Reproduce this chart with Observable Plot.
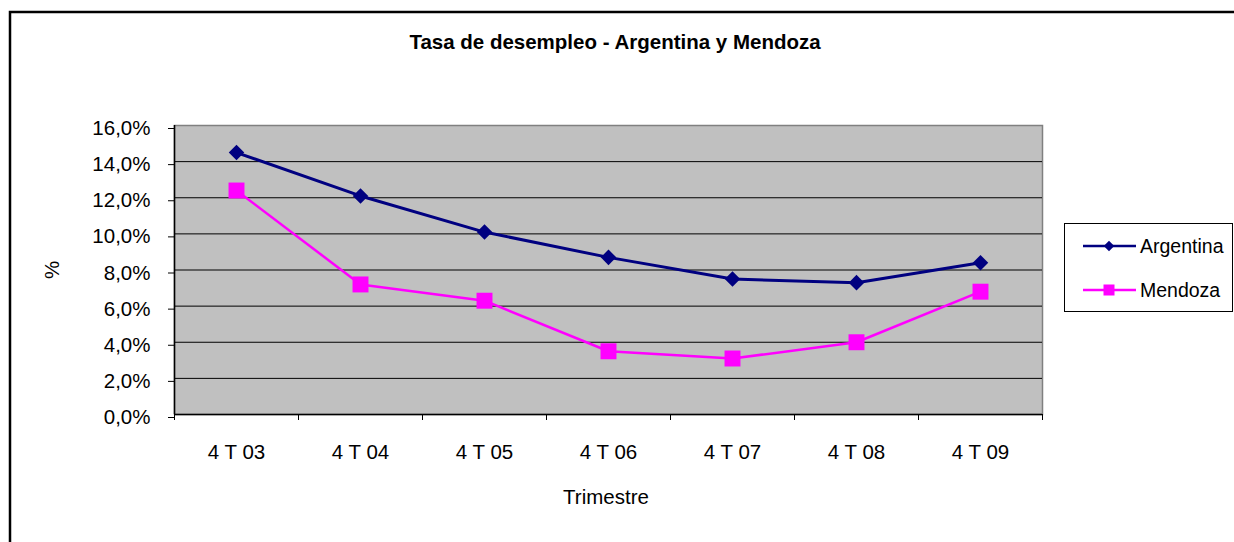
<!DOCTYPE html>
<html>
<head>
<meta charset="utf-8">
<script src="https://cdn.jsdelivr.net/npm/d3@7"></script>
<script src="https://cdn.jsdelivr.net/npm/@observablehq/plot@0.6"></script>
<style>
  html, body { margin: 0; padding: 0; background: #fff; }
  #chart { width: 1234px; height: 542px; overflow: hidden; }
</style>
</head>
<body>
<div id="chart"></div>
<script>
const title = "Tasa de desempleo - Argentina y Mendoza";
const xTitle = "Trimestre";
const yTitle = "%";
const categories = ["4 T 03", "4 T 04", "4 T 05", "4 T 06", "4 T 07", "4 T 08", "4 T 09"];
const seriesNames = ["Argentina", "Mendoza"];
const argentina = [14.5, 12.1, 10.1, 8.7, 7.5, 7.3, 8.4];
const mendoza = [12.4, 7.2, 6.3, 3.5, 3.1, 4.0, 6.8];
const yTicks = [0, 2, 4, 6, 8, 10, 12, 14, 16];
const colors = ["#000080", "#FF00FF"];

const font = "'Liberation Sans', Arial, sans-serif";
const rowsArg = categories.map((c, i) => ({xi: i + 0.5, v: argentina[i]}));
const rowsMen = categories.map((c, i) => ({xi: i + 0.5, v: mendoza[i]}));
const boundaries = d3.range(categories.length + 1);
const centers = categories.map((c, i) => i + 0.5);

const plot = Plot.plot({
  width: 1234,
  height: 542,
  marginLeft: 174,
  marginRight: 192,
  marginTop: 125,
  marginBottom: 128,
  style: {fontFamily: font, fontSize: "20px", color: "#000", background: "transparent", overflow: "visible"},
  x: {type: "linear", domain: [0, categories.length], axis: null},
  y: {domain: [0, 16], axis: null},
  marks: [
    Plot.frame({fill: "#C0C0C0", stroke: "#808080", strokeWidth: 1.5}),
    Plot.gridY(yTicks.filter(d => d > 0 && d < 16), {stroke: "#000", strokeOpacity: 1, strokeWidth: 1}),
    Plot.ruleX([0], {stroke: "#000", strokeWidth: 1.5}),
    Plot.ruleY([0], {stroke: "#000", strokeWidth: 1.5}),
    Plot.axisY(yTicks, {
      anchor: "left", tickSize: 6, tickPadding: 18, label: null,
      tickFormat: d => d.toFixed(1).replace(".", ",") + "%",
      fontSize: 20.5, dy: 3, stroke: "#000"
    }),
    Plot.axisX(boundaries, {anchor: "bottom", tickSize: 6, tickFormat: () => "", label: null, stroke: "#000"}),
    Plot.axisX(centers, {
      anchor: "bottom", tickSize: 0, tickPadding: 30, label: null,
      tickFormat: d => categories[Math.floor(d)], fontSize: 20.5
    }),
    Plot.line(rowsArg, {x: "xi", y: "v", stroke: colors[0], strokeWidth: 3}),
    Plot.dot(rowsArg, {x: "xi", y: "v", symbol: "diamond2", r: 7, fill: colors[0], stroke: null}),
    Plot.line(rowsMen, {x: "xi", y: "v", stroke: colors[1], strokeWidth: 2.5}),
    Plot.dot(rowsMen, {x: "xi", y: "v", symbol: "square", r: 9, fill: colors[1], stroke: null})
  ]
});

const svg = d3.select(plot);
// outer chart border
svg.insert("rect", ":first-child")
  .attr("x", 10).attr("y", 12).attr("width", 1400).attr("height", 700)
  .attr("fill", "#fff").attr("stroke", "#000").attr("stroke-width", 2.5);

svg.append("text")
  .attr("x", 615).attr("y", 49)
  .attr("text-anchor", "middle")
  .attr("font-family", font).attr("font-size", 20.5).attr("font-weight", "bold")
  .text(title);

svg.append("text")
  .attr("x", 606).attr("y", 504)
  .attr("text-anchor", "middle")
  .attr("font-family", font).attr("font-size", 20.5)
  .text(xTitle);

svg.append("text")
  .attr("transform", "translate(59,270) rotate(-90)")
  .attr("text-anchor", "middle")
  .attr("font-family", font).attr("font-size", 20.5)
  .text(yTitle);

// legend
const lg = svg.append("g");
lg.append("rect")
  .attr("x", 1064.5).attr("y", 223.5).attr("width", 168).attr("height", 88)
  .attr("fill", "#fff").attr("stroke", "#000").attr("stroke-width", 1);
const ly = [246, 290];
seriesNames.forEach((name, i) => {
  lg.append("line")
    .attr("x1", 1083).attr("x2", 1136).attr("y1", ly[i]).attr("y2", ly[i])
    .attr("stroke", colors[i]).attr("stroke-width", 2.5);
  if (i === 0) {
    lg.append("path")
      .attr("d", d3.symbol(d3.symbolDiamond2, 70)())
      .attr("transform", `translate(1109,${ly[i]})`)
      .attr("fill", colors[i]);
  } else {
    lg.append("rect")
      .attr("x", 1103.5).attr("y", ly[i] - 5.5).attr("width", 11).attr("height", 11)
      .attr("fill", colors[i]);
  }
  lg.append("text")
    .attr("x", 1140).attr("y", ly[i] + 7)
    .attr("text-anchor", "start")
    .attr("font-family", font).attr("font-size", 19.5)
    .text(name);
});

document.getElementById("chart").appendChild(plot);
</script>
</body>
</html>
